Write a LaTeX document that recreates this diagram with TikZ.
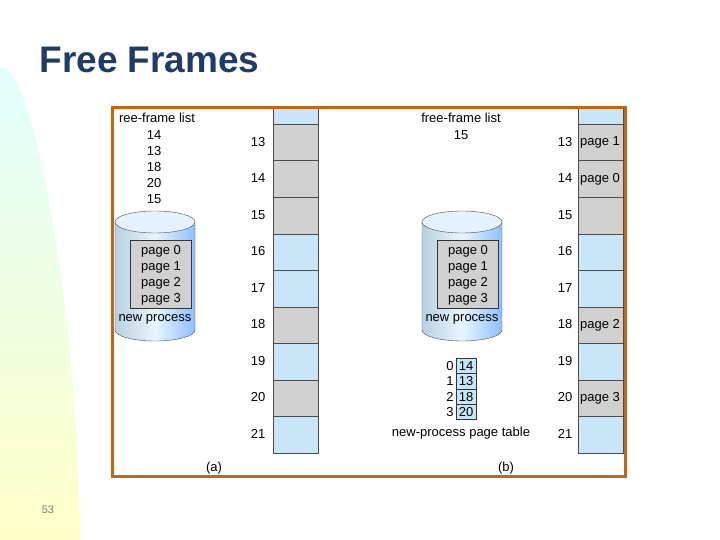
\documentclass[tikz,border=0pt]{standalone}
\usepackage{fontspec}
\setmainfont{Liberation Sans}
\usetikzlibrary{positioning}
\definecolor{memblue}{HTML}{C8E6F8}
\definecolor{memgray}{HTML}{D0D0D0}
\definecolor{framebrown}{HTML}{C0670F}
\definecolor{titleblue}{HTML}{1F3C68}
\tikzset{
  txt/.style={inner sep=0pt, font=\fontsize{13}{15}\selectfont},
  cell/.style={draw=black!70, line width=0.5pt, minimum width=45pt, minimum height=36.5pt, inner sep=0pt, anchor=north west, font=\fontsize{13}{15}\selectfont},
  pt/.style={draw=black!80, fill=memblue, minimum width=20pt, minimum height=15.3pt, inner sep=0pt, font=\fontsize{13}{15}\selectfont}
}
\begin{document}
\begin{tikzpicture}[x=1pt, y=-1pt]
  \useasboundingbox (0,0) rectangle (720,540);
  % slide background
  \shade[top color=cyan!12, bottom color=yellow!22] (0,540) -- (0,68) .. controls (30,55) and (78,300) .. (80,540) -- cycle;
  \node (title) [font=\bfseries\fontsize{37}{40}\selectfont, text=titleblue, anchor=west] at (36,60) {Free Frames};
  \node (slideno) [txt, text=black!50, font=\fontsize{11}{13}\selectfont] at (48,510) {53};

  % memory columns
  \foreach \col/\x/\lx in {a/273/258, b/578/565} {
    \node[cell, fill=memblue, minimum height=16pt] at (\x,108) {};
    \foreach \f/\c [count=\i from 0] in {13/memgray,14/memgray,15/memgray,16/memblue,17/memblue,18/memgray,19/memblue,20/memgray,21/memblue} {
      \node (\col\f) [cell, fill=\c] at (\x,124+36.5*\i) {};
      \node[txt] at (\lx,142+36.5*\i) {\f};
    }
  }
  \foreach \f/\p in {13/1,14/0,18/2,20/3}
    \node[txt, anchor=west] at ([xshift=2pt]b\f.west) {page \p};
  \fill[white] (625,100) rectangle (720,480);

  % (a)
  \node (lista) [txt] at (157,118) {ree-frame list};
  \foreach \n [count=\i from 0] in {14,13,18,20,15}
    \node[txt] at (154,135+16*\i) {\n};
  % (b)
  \node (listb) [txt] at (461,118) {free-frame list};
  \node[txt] at (461,135) {15};

  \foreach \col/\x in {a/155, b/462} {
    \shade[left color=memblue!90!black!95, right color=cyan!45!blue!45, middle color=memblue!40, draw=black!70]
      (\x-40,222) -- (\x-40,330) arc[start angle=180, end angle=360, x radius=40, y radius=-11] -- (\x+40,222) -- cycle;
    \draw[black!70, fill=memblue!50] (\x,222) ellipse[x radius=40, y radius=11];
    \node (pages\col) [draw=black!80, fill=memgray, minimum width=61pt, minimum height=68pt, inner sep=0pt] at (\x+6,274) {};
    \foreach \p [count=\i from 0] in {0,...,3}
      \node[txt] at (\x+6,251+16*\i) {page \p};
    \node[txt] at (\x,319) {new process};
  }

  % page table
  \foreach \f [count=\i from 0] in {14,13,18,20} {
    \node (pt\i) [pt] at (466,366+15.3*\i) {\f};
    \node[txt, left=2pt of pt\i] {\i};
  }
  \node (ptlabel) [txt] at (461,433) {new-process page table};

  \node[txt] at (214,468) {(a)};
  \node[txt] at (506,468) {(b)};
  \draw[framebrown, line width=3pt] (112,108) rectangle (625,476);
\end{tikzpicture}
\end{document}
